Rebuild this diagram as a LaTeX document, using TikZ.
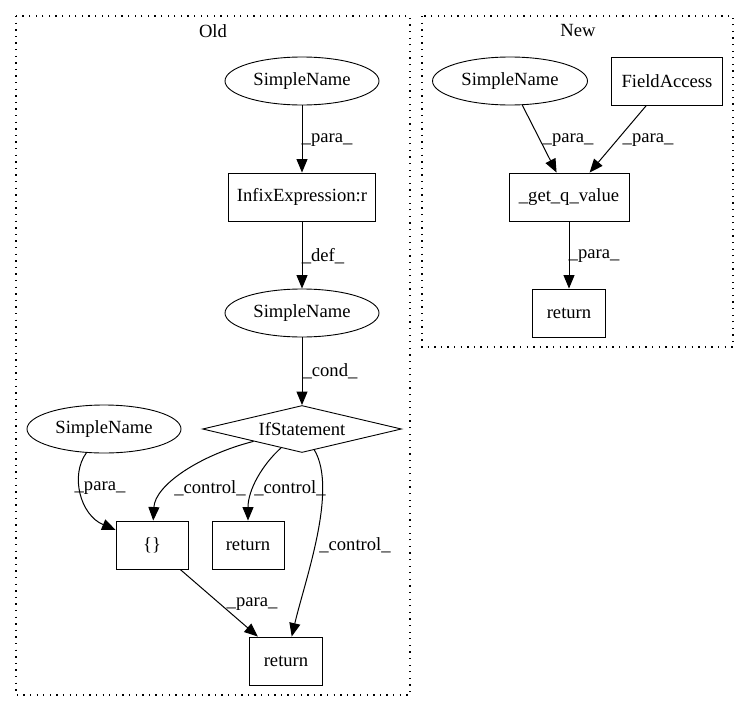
\documentclass[tikz,border=0pt]{standalone}
\usepackage{fontspec}
\setmainfont{Liberation Serif}
\usetikzlibrary{arrows.meta,shapes.geometric}
\begin{document}
\begin{tikzpicture}[x=1pt,y=-1pt,
  every node/.style={font=\fontsize{18.6}{22}\selectfont},
  ell/.style={draw,ellipse,line width=0.9pt,minimum width=154pt,minimum height=48pt,inner sep=0pt},
  box/.style={draw,rectangle,line width=0.9pt,minimum height=48pt,inner sep=0pt},
  dia/.style={draw,diamond,aspect=4.2,line width=0.9pt,minimum width=199pt,minimum height=47pt,inner sep=0pt},
  edge/.style={line width=1pt,-{Triangle[length=13.5pt,width=11pt]}},
  lbl/.style={inner sep=0pt},
  clus/.style={line width=1.2pt,dash pattern=on 1.3pt off 5.3pt}
]
\useasboundingbox (0,0) rectangle (749,712);
% clusters
\draw[clus] (16,16) rectangle (410,695);
\draw[clus] (422,16) rectangle (733,347);
\node (tOld) at (213,31) {Old};
\node (tNew) at (578,31) {New};
% Old nodes
\node[ell] (sn1) at (302,81) {SimpleName};
\node[box,minimum width=147pt] (infix) at (302,197) {InfixExpression:r};
\node[ell] (sn2) at (302,313) {SimpleName};
\node[dia] (ifs) at (302,429) {IfStatement};
\node[ell] (sn3) at (104,429) {SimpleName};
\node[box,minimum width=72pt] (brace) at (152,545) {\{\}};
\node[box,minimum width=72pt] (ret1) at (248,545) {return};
\node[box,minimum width=73pt] (ret2) at (286,661) {return};
% New nodes
\node[ell,minimum width=155pt] (sn4) at (510,81) {SimpleName};
\node[box,minimum width=111pt] (fa) at (667,81) {FieldAccess};
\node[box,minimum width=120pt] (gq) at (569,197) {\_get\_q\_value};
\node[box,minimum width=73pt] (ret3) at (569,313) {return};
% Old edges
\draw[edge] (sn1) -- (infix);
\draw[edge] (infix) -- (sn2);
\draw[edge] (sn2) -- (ifs);
\draw[edge] (ifs) .. controls (200,455) and (155,485) .. (brace);
\draw[edge] (ifs) .. controls (262,465) and (248,490) .. (ret1);
\draw[edge] (ifs) .. controls (338,490) and (305,580) .. (ret2);
\draw[edge] (sn3) .. controls (70,475) and (80,515) .. (brace);
\draw[edge] (brace) -- (ret2);
% New edges
\draw[edge] (sn4) -- (gq);
\draw[edge] (fa) -- (gq);
\draw[edge] (gq) -- (ret3);
% labels
\node[lbl] (l1) at (327,140) {\_para\_};
\node[lbl] (l2) at (323,256) {\_def\_};
\node[lbl] (l3) at (330,371) {\_cond\_};
\node[lbl] (l4) at (210,488) {\_control\_};
\node[lbl] (l5) at (290,488) {\_control\_};
\node[lbl] (l6) at (355,545) {\_control\_};
\node[lbl] (l7) at (100,488) {\_para\_};
\node[lbl] (l8) at (252,604) {\_para\_};
\node[lbl] (l9) at (568,140) {\_para\_};
\node[lbl] (l10) at (648,140) {\_para\_};
\node[lbl] (l11) at (594,256) {\_para\_};
\end{tikzpicture}
\end{document}
